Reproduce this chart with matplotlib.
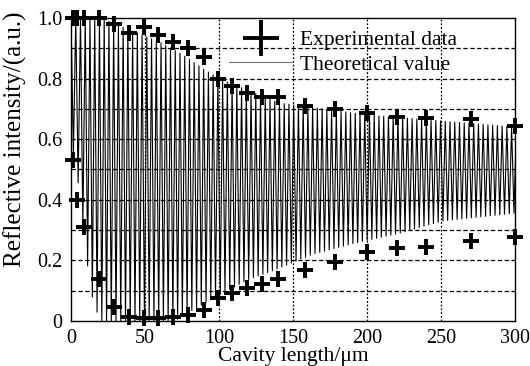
import matplotlib
matplotlib.use("Agg")
import matplotlib.pyplot as plt
import numpy as np

plt.rcParams['font.family'] = ['Liberation Serif', 'DejaVu Serif']

exp_x = [1, 4, 9, 19, 29, 39, 49, 59, 69, 79, 90, 99, 109, 119, 129, 140,
         158, 178, 200, 220, 240, 270, 300]
exp_hi = [1.0, 1.0, 1.0, 1.0, 0.98, 0.95, 0.97, 0.945, 0.92, 0.90, 0.87, 0.80,
          0.776, 0.753, 0.74, 0.74, 0.71, 0.70, 0.686, 0.673, 0.67, 0.667, 0.644]
exp_lo = [0.53, 0.40, 0.31, 0.14, 0.045, 0.013, 0.01, 0.01, 0.013, 0.02, 0.036,
          0.075, 0.092, 0.11, 0.122, 0.14, 0.168, 0.195, 0.228, 0.24, 0.245,
          0.264, 0.277]

# theoretical curve: fringe envelope
env_hi_x = [0, 20, 40, 60, 75, 90, 100, 120, 140, 170, 200, 250, 300]
env_hi = [1.0, 1.0, 0.96, 0.92, 0.88, 0.83, 0.80, 0.76, 0.72, 0.70, 0.68, 0.66, 0.64]
env_lo_x = [0, 5, 10, 15, 20, 70, 80, 96, 119, 141, 163, 190, 222, 251, 300]
env_lo = [0.6, 0.45, 0.22, 0.06, 0.0, 0.0, 0.03, 0.075, 0.135, 0.175, 0.22,
          0.255, 0.29, 0.33, 0.356]
fringe_period = 3.2  # um, spacing of the peaks

xt = np.arange(0, 300 + fringe_period / 2, fringe_period / 2)
hi = np.interp(xt, env_hi_x, env_hi)
lo = np.interp(xt, env_lo_x, env_lo)
yt = np.where(np.arange(len(xt)) % 2 == 0, hi, lo)

fig = plt.figure(figsize=(5.3, 3.66), dpi=100)
ax = fig.add_axes([0.134, 0.123, 0.838, 0.828])

ax.plot(xt, yt, color='black', lw=0.8, label='Theoretical value', zorder=2)
ax.plot(exp_x, exp_hi, ls='none', marker='+', ms=11.5, mew=2.8, color='black',
        clip_on=False, zorder=4, label='Experimental data')
ax.plot(exp_x, exp_lo, ls='none', marker='+', ms=11.5, mew=2.8, color='black',
        clip_on=False, zorder=4)

ax.set_xlim(0, 300)
ax.set_ylim(0, 1.0)
ax.set_xticks([0, 50, 100, 150, 200, 250, 300])
ax.set_yticks([0, 0.2, 0.4, 0.6, 0.8, 1.0])
ax.set_yticklabels(['0', '0.2', '0.4', '0.6', '0.8', '1.0'])
ax.tick_params(length=0, labelsize=14.5, pad=6)

for v in np.arange(0.1, 1.0, 0.1):
    ax.axhline(v, color='black', lw=0.9, ls=(0, (3.5, 2)), zorder=3)
for v in [50, 100, 150, 200, 250]:
    ax.axvline(v, color='black', lw=0.9, ls=(0, (1.5, 1.5)), zorder=3)

for s in ax.spines.values():
    s.set_linewidth(1.0)

ax.set_xlabel('Cavity length/μm', fontsize=15.5, labelpad=-1)
ax.set_ylabel('Reflective intensity/(a.u.)', fontsize=18)
ax.yaxis.set_label_coords(-0.10, 0.60)

h, l = ax.get_legend_handles_labels()
leg = ax.legend([h[1], h[0]], [l[1], l[0]], loc='upper left',
                bbox_to_anchor=(0.355, 0.96), frameon=False, fontsize=15.5,
                handlelength=3.0, handletextpad=0.3, labelspacing=0.22,
                borderpad=0, borderaxespad=0, markerscale=2.2)
leg.get_lines()[1].set_color('0.45')

fig.savefig('out.png', dpi=100)
